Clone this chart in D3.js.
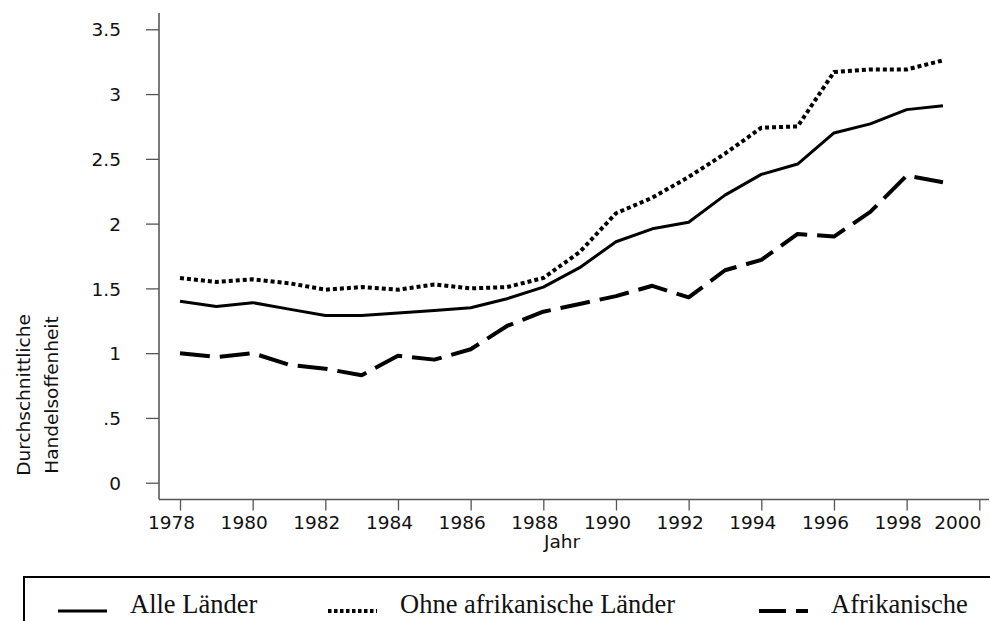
<!DOCTYPE html>
<html>
<head>
<meta charset="utf-8">
<script src="https://cdn.jsdelivr.net/npm/d3@7.9.0/dist/d3.min.js"></script>
<style>
  html, body { margin: 0; padding: 0; background: #fff; }
  svg { display: block; }
  .tick text, .axis-title { font-family: "DejaVu Sans", sans-serif; font-size: 18.5px; fill: #111; }
  .legend text { font-family: "Liberation Serif", "Times New Roman", serif; font-size: 26.5px; fill: #111; }
</style>
</head>
<body>
<svg id="chart" width="990" height="621"></svg>
<script>
// Data
const years = d3.range(1978, 2000); // 1978 .. 1999
const alleLaender = [1.40, 1.36, 1.39, 1.34, 1.29, 1.29, 1.31, 1.33, 1.35, 1.42, 1.51,
                     1.66, 1.86, 1.96, 2.01, 2.22, 2.38, 2.46, 2.70, 2.77, 2.88, 2.91];
const ohneAfrika = [1.58, 1.55, 1.57, 1.54, 1.49, 1.51, 1.49, 1.53, 1.50, 1.51, 1.58,
                    1.78, 2.08, 2.20, 2.36, 2.54, 2.74, 2.75, 3.17, 3.19, 3.19, 3.26];
const afrikanische = [1.00, 0.97, 1.00, 0.91, 0.88, 0.83, 0.98, 0.95, 1.03, 1.21, 1.32,
                      1.38, 1.44, 1.52, 1.43, 1.64, 1.72, 1.92, 1.90, 2.09, 2.37, 2.32];
const xTicks = d3.range(1978, 2001, 2);
const yTicks = [0, 0.5, 1, 1.5, 2, 2.5, 3, 3.5];
const yTickLabels = ['0', '.5', '1', '1.5', '2', '2.5', '3', '3.5'];

const series = [
  { name: 'Alle Länder', values: alleLaender, width: 3, dash: null, legendDash: null },
  { name: 'Ohne afrikanische Länder', values: ohneAfrika, width: 4, dash: '4,3', legendDash: '3.5,2.5' },
  { name: 'Afrikanische', values: afrikanische, width: 4, dash: '30,10', legendDash: '27,10' }
];

const svg = d3.select('#chart');

const x = d3.scaleLinear().domain([1978, 2000]).range([180, 979.3]);
const y = d3.scaleLinear().domain([0, 3.5]).range([482.7, 29.3]);

const axisX = 159;   // y axis position
const axisY = 499.5; // x axis position

// axis lines
svg.append('line')
  .attr('x1', axisX).attr('x2', axisX)
  .attr('y1', 13).attr('y2', axisY)
  .attr('stroke', '#333').attr('stroke-width', 1.3);
svg.append('line')
  .attr('x1', axisX).attr('x2', 989)
  .attr('y1', axisY).attr('y2', axisY)
  .attr('stroke', '#555').attr('stroke-width', 1.3);

// y axis
const yAxis = svg.append('g')
  .attr('transform', `translate(${axisX},0)`)
  .call(d3.axisLeft(y)
    .tickValues(yTicks)
    .tickFormat((d, i) => yTickLabels[i])
    .tickSize(13)
    .tickSizeOuter(0)
    .tickPadding(25));
yAxis.select('.domain').remove();
yAxis.selectAll('.tick line').attr('stroke', '#555').attr('stroke-width', 1.3);
yAxis.selectAll('.tick text').attr('dy', '0.36em');

// x axis
const xAxis = svg.append('g')
  .attr('transform', `translate(0,${axisY})`)
  .call(d3.axisBottom(x)
    .tickValues(xTicks)
    .tickFormat(d3.format('d'))
    .tickSize(11)
    .tickSizeOuter(0)
    .tickPadding(14));
xAxis.select('.domain').remove();
xAxis.selectAll('.tick line').attr('stroke', '#555').attr('stroke-width', 1.3);
// labels sit slightly left of their ticks; the last one is kept inside the frame
xAxis.selectAll('.tick text')
  .attr('dy', 0).attr('y', 29)
  .attr('x', d => d === 2000 ? 1.5 : -9)
  .attr('text-anchor', d => d === 2000 ? 'end' : 'middle');

// axis titles
svg.append('text').attr('class', 'axis-title')
  .attr('x', 562).attr('y', 548)
  .attr('text-anchor', 'middle')
  .text('Jahr');

const yTitle = svg.append('text').attr('class', 'axis-title')
  .attr('text-anchor', 'middle')
  .attr('transform', 'translate(0,395) rotate(-90)');
yTitle.append('tspan').attr('x', 0).attr('y', 30).text('Durchschnittliche');
yTitle.append('tspan').attr('x', 0).attr('y', 58).text('Handelsoffenheit');

// lines
const line = d3.line()
  .x((d, i) => x(years[i]))
  .y(d => y(d));

svg.append('g').selectAll('path')
  .data(series)
  .enter()
  .append('path')
  .attr('d', d => line(d.values))
  .attr('fill', 'none')
  .attr('stroke', '#000')
  .attr('stroke-width', d => d.width)
  .attr('stroke-dasharray', d => d.dash)
  .attr('stroke-linejoin', 'round');

// legend
const legend = svg.append('g').attr('class', 'legend');
legend.append('rect')
  .attr('x', 24).attr('y', 577)
  .attr('width', 1000).attr('height', 100)
  .attr('fill', 'none')
  .attr('stroke', '#000')
  .attr('stroke-width', 2);

const legendX = [58, 328, 759];
const items = legend.selectAll('g.item')
  .data(series)
  .enter()
  .append('g')
  .attr('class', 'item')
  .attr('transform', (d, i) => `translate(${legendX[i]},0)`);

items.append('line')
  .attr('x1', 0).attr('x2', 49)
  .attr('y1', 611).attr('y2', 611)
  .attr('stroke', '#000')
  .attr('stroke-width', d => d.width)
  .attr('stroke-dasharray', d => d.legendDash);

items.append('text')
  .attr('x', 72).attr('y', 613)
  .text(d => d.name);
</script>
</body>
</html>
